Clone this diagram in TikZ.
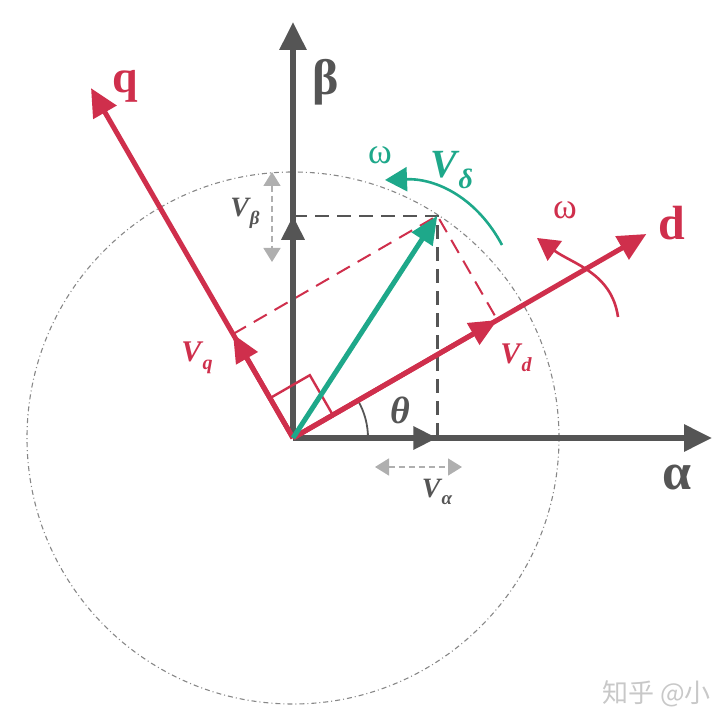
\documentclass[tikz,border=0pt]{standalone}
\usepackage{fontspec}
\setmainfont{Liberation Serif}
\newfontfamily\cjk{Noto Sans CJK SC}
\usetikzlibrary{arrows.meta}
\definecolor{axgray}{RGB}{85,85,85}
\definecolor{dqred}{RGB}{207,47,76}
\definecolor{vteal}{RGB}{30,168,138}
\definecolor{lgray}{RGB}{175,175,175}
\definecolor{cgray}{RGB}{135,135,135}
\definecolor{wmgray}{RGB}{200,200,200}
\newcommand\fsz[1]{\fontsize{#1}{#1}\selectfont}
\newcommand\vlab[3]{{\fsz{#1}\bfseries\itshape V\kern1pt\raisebox{-0.28em}{\fsz{#2}\bfseries\itshape #3}}}
\begin{document}
\begin{tikzpicture}[x=1pt,y=1pt,
  axisarrow/.style={line width=6pt, draw=axgray, -{Triangle[length=28pt,width=26pt]}},
  dqarrow/.style={line width=5pt, draw=dqred, -{Triangle[length=28pt,width=26pt]}},
  midgray/.style={line width=6pt, draw=axgray, -{Triangle[length=24pt,width=22pt]}},
  midred/.style={line width=5pt, draw=dqred, -{Triangle[length=28pt,width=24pt]}},
  projblack/.style={draw=axgray, line width=2.4pt, dash pattern=on 14pt off 8pt},
  projred/.style={draw=dqred, line width=2pt, dash pattern=on 15pt off 9pt},
  spanarrow/.style={draw=lgray, line width=1.6pt, dash pattern=on 6pt off 4pt,
     {Triangle[length=14pt,width=17pt]}-{Triangle[length=14pt,width=17pt]}},
  lbl/.style={inner sep=0pt}
]
\useasboundingbox (-293,-287) rectangle (424,438);
% key points
\coordinate (O) at (0,0);
\coordinate (Atip) at (419,0);
\coordinate (Btip) at (0,416);
\coordinate (Dtip) at (30:408);
\coordinate (Qtip) at (120:404);
\coordinate (V) at (57:265);
\coordinate (Vd) at (30:236);
\coordinate (Vq) at (120:120);
\coordinate (Va) at (V |- O);
\coordinate (Vb) at (V -| O);
% circle
\draw[cgray, line width=1.1pt, dash pattern=on 5pt off 3pt on 1pt off 3pt] (O) circle[radius=266];
% projections
\draw[projblack] (Vb) -- (V) -- (Va);
\draw[projred] (Vq) -- (V) -- (Vd);
% theta arc
\draw[axgray, line width=1.8pt] (75,0) arc[start angle=0, end angle=30, radius=75];
% axes
\draw[axisarrow] (O) -- (Atip);
\draw[axisarrow] (O) -- (Btip);
\draw[midgray] (O) -- (Va);
\draw[midgray] (O) -- (Vb);
\draw[dqarrow] (O) -- (Dtip);
\draw[dqarrow] (O) -- (Qtip);
\draw[midred] (O) -- (Vd);
\draw[midred] (O) -- (Vq);
% right angle
\draw[dqred, line width=2.4pt] (30:46) -- ++(120:46) -- ++(210:46);
% voltage vector
\draw[vteal, line width=5pt, -{Triangle[length=28pt,width=24pt]}] (O) -- (V);
% span arrows
\coordinate (vbTop) at (-21,266);
\coordinate (vbBot) at (-21,176);
\coordinate (vaL) at (82,-29);
\coordinate (vaR) at (169,-29);
\draw[spanarrow] (vbTop) -- (vbBot);
\draw[spanarrow] (vaL) -- (vaR);
% omega arcs
\coordinate (tA) at (209,193);
\coordinate (tC) at (92,258);
\draw[vteal, line width=2.6pt, -{Triangle[length=22pt,width=24pt]}] (tA) to[out=118, in=2] (tC);
\coordinate (rA) at (325,121);
\coordinate (rC) at (244,200);
\draw[dqred, line width=2.6pt, -{Triangle[length=22pt,width=24pt]}] (rA) to[out=98, in=-36] (rC);
% labels
\node[lbl, text=axgray] (lbeta) at (33,356) {\fsz{50}\bfseries β};
\node[lbl, text=axgray] (lalpha) at (384,-40) {\fsz{52}\bfseries α};
\node[lbl, text=dqred] (lq) at (-168,352) {\fsz{46}\bfseries q};
\node[lbl, text=dqred] (ld) at (379,215) {\fsz{48}\bfseries d};
\node[lbl, text=axgray] (ltheta) at (107,28) {\fsz{38}\bfseries\itshape θ};
\node[lbl, text=vteal] (lomt) at (87,283) {\fsz{36}ω};
\node[lbl, text=vteal] (lvdel) at (159,268) {\vlab{40}{28}{δ}};
\node[lbl, text=dqred] (lomr) at (272,228) {\fsz{36}ω};
\node[lbl, text=dqred] (lvq) at (-96,80) {\vlab{30}{20}{q}};
\node[lbl, text=dqred] (lvd) at (223,80) {\vlab{30}{20}{d}};
\node[lbl, text=axgray] (lvb) at (-48,225) {\vlab{28}{19}{β}};
\node[lbl, text=axgray] (lva) at (144,-54) {\vlab{28}{19}{α}};
\node[lbl, text=wmgray, anchor=east] (wm) at (418,-256) {\cjk\fsz{26}知乎 @小};
\end{tikzpicture}
\end{document}
